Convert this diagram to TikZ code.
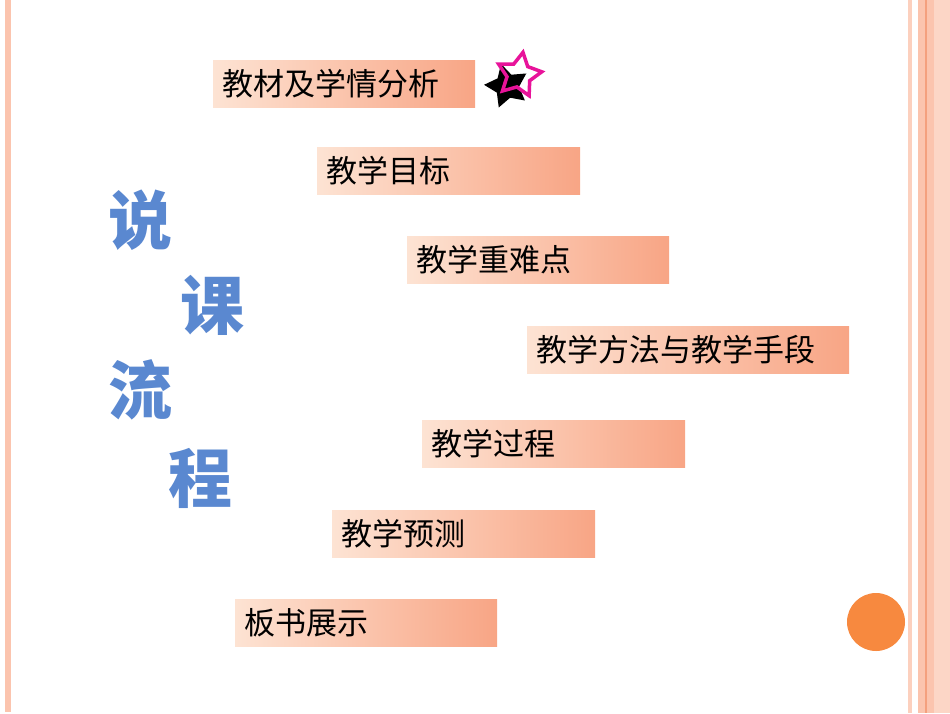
\documentclass[tikz,border=0pt]{standalone}
\usepackage{fontspec}
\setmainfont{Noto Sans CJK SC}
\usetikzlibrary{shapes.geometric}
\definecolor{boxl}{HTML}{FDE3D3}
\definecolor{boxr}{HTML}{F8A585}
\definecolor{stripe}{HTML}{FBC4AE}
\definecolor{stripeD}{HTML}{F4A07E}
\definecolor{bigblue}{HTML}{5A88D0}
\definecolor{orangec}{HTML}{F7893F}
\definecolor{pinkst}{HTML}{E8139A}
\tikzset{
  stepbox/.style={rectangle, left color=boxl, right color=boxr, minimum height=47pt, inner sep=0pt, anchor=north west, text height=24pt, text depth=0pt, font=\fontsize{31}{31}\selectfont, align=left},
  bigchar/.style={text=bigblue, font=\fontsize{64}{64}\selectfont\bfseries}
}
\begin{document}
\begin{tikzpicture}[x=1pt,y=-1pt]
\useasboundingbox (0,0) rectangle (950,713);
% borders
\fill[stripe] (5,0) rectangle (11,712);
\fill[stripe!80] (908,0) rectangle (912,713);
\fill[stripe] (918,0) rectangle (950,713);
\fill[stripeD] (925,0) rectangle (927,713);
\fill[stripe!70] (934,0) rectangle (950,713);
% boxes
\node[stepbox, minimum width=262pt, text width=255pt] (b1) at (213,60) {\hspace*{6pt}教材及学情分析};
\node[stepbox, minimum width=263pt, text width=256pt] (b2) at (317,147) {\hspace*{6pt}教学目标};
\node[stepbox, minimum width=262pt, text width=255pt] (b3) at (407,236) {\hspace*{6pt}教学重难点};
\node[stepbox, minimum width=322pt, text width=315pt] (b4) at (527,326) {\hspace*{6pt}教学方法与教学手段};
\node[stepbox, minimum width=263pt, text width=256pt] (b5) at (422,420) {\hspace*{6pt}教学过程};
\node[stepbox, minimum width=263pt, text width=256pt] (b6) at (332,510) {\hspace*{6pt}教学预测};
\node[stepbox, minimum width=262pt, text width=255pt] (b7) at (235,599) {\hspace*{6pt}板书展示};
% big characters
\node[bigchar] (c1) at (140,220) {说};
\node[bigchar] (c2) at (212,305) {课};
\node[bigchar] (c3) at (140,390) {流};
\node[bigchar] (c4) at (200,478) {程};
% star
\node[star, star points=5, star point ratio=1.9, fill=black, minimum size=46pt, inner sep=0pt, rotate=15] (s1) at (507,86) {};
\node[star, star points=5, star point ratio=1.9, draw=pinkst, line width=3.5pt, minimum size=46pt, inner sep=0pt, rotate=-10] (s2) at (519,75) {};
% circle
\node[circle, fill=orangec, minimum size=58pt, inner sep=0pt] (o) at (876,622) {};
\end{tikzpicture}
\end{document}
